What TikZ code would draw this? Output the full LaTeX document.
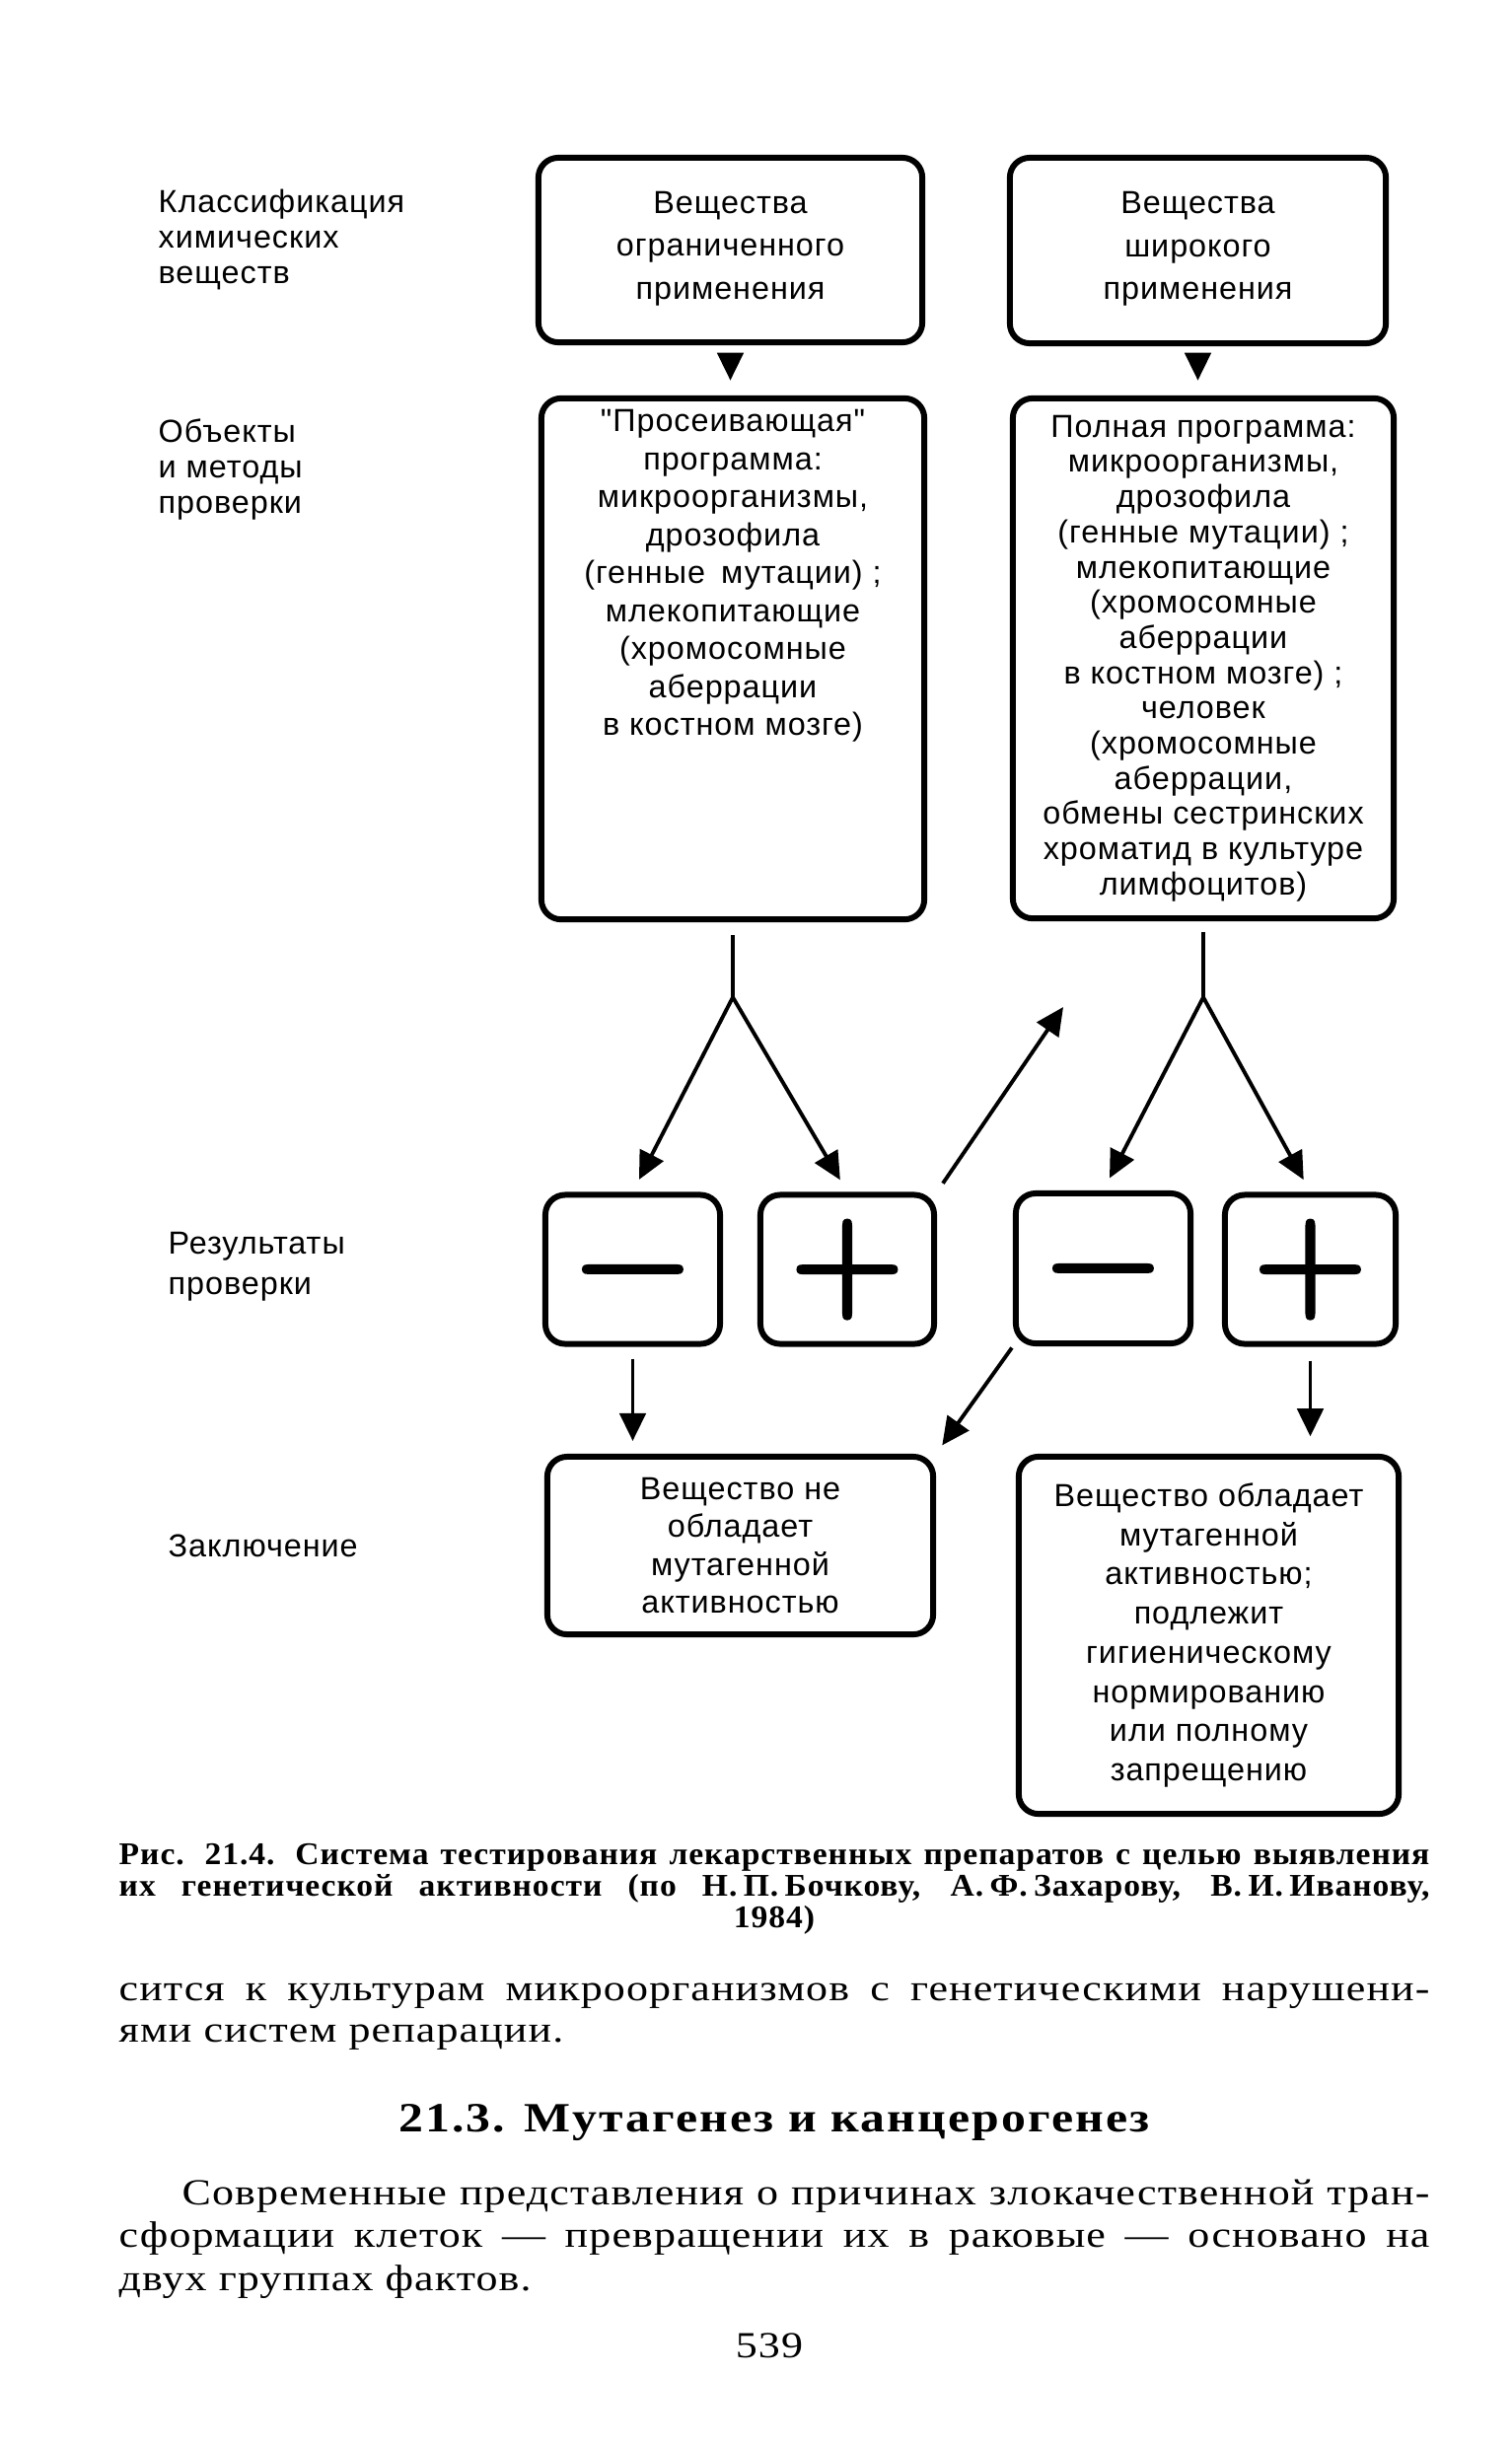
\documentclass[tikz,border=0pt]{standalone}
\usepackage{fontspec}
\setmainfont{Liberation Serif}[LetterSpace=3]
\newfontfamily\bookfont{Liberation Serif}[FakeStretch=1.18, LetterSpace=3]
\newfontfamily\captfamily{Liberation Serif}[FakeStretch=1.05, LetterSpace=3]
\newfontfamily\schemefont{Liberation Sans}[LetterSpace=3]
\newfontfamily\signfont{Latin Modern Roman}[FakeBold=2]
\usetikzlibrary{arrows.meta}
\NewDocumentCommand{\boxtext}{}{\schemefont\fontsize{9.2}{10.95}\selectfont}
\NewDocumentCommand{\captfont}{}{\captfamily\bfseries\fontsize{9.1}{9.5}\selectfont}
\NewDocumentCommand{\bodyfont}{}{\bookfont\fontsize{10.6}{12}\selectfont}
\NewDocumentCommand{\headfont}{}{\bookfont\bfseries\fontsize{12}{13}\selectfont\addfontfeature{LetterSpace=5}}
\tikzset{/Mut/S/frame/.style={
	draw, line width=1.7pt, rounded corners=0.2cm, inner sep=0, align=center, font=\boxtext
}}
\tikzset{/Mut/S/sign/.style={
	/Mut/S/frame, minimum width=1.76cm, minimum height=1.51cm, text height=19pt, text depth=0pt,
	font=\signfont\bfseries\fontsize{38}{38}\selectfont
}}
\tikzset{/Mut/S/arrow/.style={
	line width=1.1pt, -{Triangle[length=8pt, width=7.5pt]}
}}
\tikzset{/Mut/S/label/.style={
	anchor=north west, inner sep=0, align=left, font=\schemefont\fontsize{9.2}{10.25}\selectfont
}}
\tikzset{/Mut/S/line/.style={
	anchor=base west, inner sep=0
}}

\begin{document}
\begin{tikzpicture}[x=0.01cm, y=-0.01cm]
	\useasboundingbox (0,0) rectangle (1532,2481);
	\path (160,191) node[/Mut/S/label] (classes) {Классификация\\химических\\веществ};
	\path (160,424) node[/Mut/S/label] (objects) {Объекты\\и методы\\проверки};
	\path (170,1249) node[/Mut/S/label, font=\schemefont\fontsize{9.2}{11.6}\selectfont] (results) {Результаты\\проверки};
	\path (170,1555) node[/Mut/S/label] (verdict) {Заключение};

	\path (740.5,253.5) node[/Mut/S/frame, minimum width=3.89cm, minimum height=1.87cm, font=\schemefont\fontsize{9.2}{12.4}\selectfont] (limited) {Вещества\\ограниченного\\применения\\[-9.7pt]};
	\path (1214.5,254) node[/Mut/S/frame, minimum width=3.81cm, minimum height=1.88cm, font=\schemefont\fontsize{9.2}{12.4}\selectfont] (wide) {Вещества\\широкого\\применения\\[-9.7pt]};

	\path (743,668) node[/Mut/S/frame, minimum width=3.88cm, minimum height=5.28cm] (screening) {};
	\path (screening.north) ++ (0,14) node[anchor=north, inner sep=0, align=center, font=\boxtext] (screeningtext) {"Просеивающая"\\программа:\\микроорганизмы,\\дрозофила\\(генные\hspace{0.5em}мутации) ;\\млекопитающие\\(хромосомные\\аберрации\\в костном мозге)};
	\path (1220,667.5) node[/Mut/S/frame, minimum width=3.86cm, minimum height=5.27cm, font=\schemefont\fontsize{9.2}{10.15}\selectfont] (full) {Полная программа:\\микроорганизмы,\\дрозофила\\(генные мутации) ;\\млекопитающие\\(хромосомные\\аберрации\\в костном мозге) ;\\человек\\(хромосомные\\аберрации,\\обмены сестринских\\хроматид в культуре\\лимфоцитов)};

	\path (641.5,1287) node[/Mut/S/sign, minimum width=1.77cm] (minus1) {−};
	\path (859,1287) node[/Mut/S/sign] (plus1) {+};
	\path (1118.5,1286) node[/Mut/S/sign, minimum width=1.77cm, minimum height=1.52cm] (minus2) {−};
	\path (1328.5,1287) node[/Mut/S/sign, minimum width=1.73cm] (plus2) {+};

	\path (750.5,1567) node[/Mut/S/frame, minimum width=3.91cm, minimum height=1.80cm] (negative) {Вещество не\\обладает\\мутагенной\\активностью};
	\path (1225.5,1658) node[/Mut/S/frame, minimum width=3.85cm, minimum height=3.62cm, font=\schemefont\fontsize{9.2}{11.3}\selectfont] (positive) {Вещество обладает\\мутагенной\\активностью;\\подлежит\\гигиеническому\\нормированию\\или полному\\запрещению};

	\draw[/Mut/S/arrow, shorten <=2.5pt, shorten >=4.3pt] (limited.south) -- (limited.south |- screening.north);
	\draw[/Mut/S/arrow, shorten <=2.5pt, shorten >=4.3pt] (wide.south) -- (wide.south |- full.north);

	\path (screening.south) ++ (0,76) coordinate (leftfork);
	\path (full.south) ++ (0,77) coordinate (rightfork);
	\path (1078,1021) coordinate (backtip);
	\draw[line width=1.1pt, shorten <=3.7pt] (screening.south) -- (leftfork);
	\draw[line width=1.1pt, shorten <=3.2pt] (full.south) -- (rightfork);
	\draw[/Mut/S/arrow, shorten >=4pt] (leftfork) -- (minus1.north);
	\draw[/Mut/S/arrow, shorten >=4pt] (leftfork) -- (plus1.north);
	\draw[/Mut/S/arrow, shorten >=4pt] (rightfork) -- (minus2.north);
	\draw[/Mut/S/arrow, shorten >=4pt] (rightfork) -- (plus2.north);
	\draw[/Mut/S/arrow, shorten <=3pt] (plus1.north east) -- (backtip);

	\draw[/Mut/S/arrow, shorten <=3.4pt, shorten >=3.7pt] (minus1.south) -- (minus1.south |- negative.north);
	\draw[/Mut/S/arrow, shorten <=0.5pt, shorten >=3pt] (minus2.south west) -- (negative.north east);
	\draw[/Mut/S/arrow, shorten <=4pt, shorten >=5pt] (plus2.south) -- (plus2.south |- positive.north);

	\path (120,1890) node[/Mut/S/line, font=\captfont] (caption1) {\makebox[13.28cm][s]{Рис. 21.4. Система тестирования лекарственных препаратов с целью выявления}};
	\path (120,1922) node[/Mut/S/line, font=\captfont] (caption2) {\makebox[13.28cm][s]{их генетической активности (по Н.\hspace{0.2em}П.\hspace{0.2em}Бочкову, А.\hspace{0.2em}Ф.\hspace{0.2em}Захарову, В.\hspace{0.2em}И.\hspace{0.2em}Иванову,}};
	\path (785,1954) node[/Mut/S/line, anchor=base, font=\captfont] (caption3) {1984)};

	\path (120,2028) node[/Mut/S/line, font=\bodyfont] (body1) {\makebox[13.28cm][s]{сится к культурам микроорганизмов с генетическими нарушени-}};
	\path (120,2070) node[/Mut/S/line, font=\bodyfont] (body2) {ями систем репарации.};
	\path (785,2161) node[/Mut/S/line, anchor=base, font=\headfont] (heading) {21.3. Мутагенез и канцерогенез};
	\path (184,2235) node[/Mut/S/line, font=\bodyfont] (para1) {\makebox[12.64cm][s]{Современные представления о причинах злокачественной тран-}};
	\path (120,2278) node[/Mut/S/line, font=\bodyfont] (para2) {\makebox[13.28cm][s]{сформации клеток — превращении их в раковые — основано на}};
	\path (120,2322) node[/Mut/S/line, font=\bodyfont] (para3) {двух группах фактов.};
	\path (780,2390) node[/Mut/S/line, anchor=base, font=\bodyfont] (pagenum) {539};
\end{tikzpicture}
\end{document}
